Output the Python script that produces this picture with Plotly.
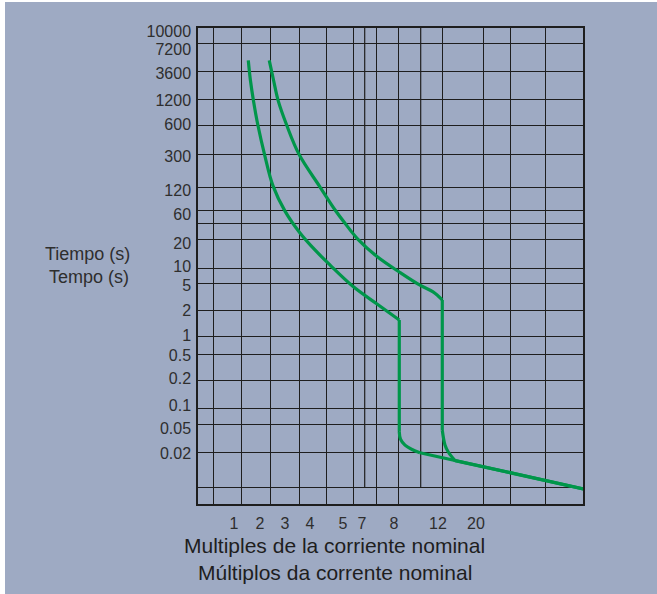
import numpy as np
import plotly.graph_objects as go

# ---- Time axis (seconds): labelled values plus two unlabelled rulings (40 s, 0.01 s)
time_ticks = [0.01, 0.02, 0.05, 0.1, 0.2, 0.5, 1, 2, 5, 10, 20, 40, 60,
              120, 300, 600, 1200, 3600, 7200, 10000]
time_labels = ["0.02", "0.05", "0.1", "0.2", "0.5", "1", "2", "5", "10",
               "20", "60", "120", "300", "600", "1200", "3600", "7200", "10000"]

# ---- Multiples of rated current axis labels
mult_ticks = [1, 2, 3, 4, 5, 7, 8, 12, 20]
mult_labels = ["1", "2", "3", "4", "5", "7", "8", "12", "20"]

# ---- Tripping curves (multiple of In, seconds), split into smooth / straight pieces
curve_low_thermal_m = [1.55, 1.63, 1.75, 1.92, 2.18, 2.52, 3.0, 3.6, 4.15, 4.61,
                       6.0, 7.47, 8.48]
curve_low_thermal_t = [4700, 2540, 1150, 600, 300, 126, 58, 26.3, 15.5, 10.8,
                       4.57, 2.5, 1.56]
curve_low_drop_m = [8.48, 8.48]
curve_low_drop_t = [1.56, 0.039]
curve_low_knee_m = [8.48, 8.59, 9.0, 9.64, 10.36]
curve_low_knee_t = [0.039, 0.0306, 0.0251, 0.0217, 0.0197]
curve_low_tail_m = [10.36, 15.58, 42.6]
curve_low_tail_t = [0.0197, 0.0169, 0.0097]

curve_high_thermal_m = [2.37, 2.54, 2.73, 3.07, 3.56, 4.30, 4.76, 5.21, 6.58,
                        7.5, 8.55, 10.36, 11.55, 12.9]
curve_high_thermal_t = [4700, 2540, 1150, 600, 300, 123, 60, 40, 20,
                        13, 8.24, 4.7, 3.76, 2.87]
curve_high_drop_m = [12.9, 12.9]
curve_high_drop_t = [2.87, 0.041]
curve_high_knee_m = [12.9, 13.47, 14.17, 15.58]
curve_high_knee_t = [0.041, 0.0253, 0.0200, 0.0169]
curve_high_tail_m = [15.58, 42.6]
curve_high_tail_t = [0.0169, 0.0097]

# ---- Nonuniform scale of the printed grid (axis units)
time_pos = [16.7, 52, 79.7, 95.3, 123.3, 149.3, 167.3, 193.3, 220.7, 235.7,
            264.7, 280.7, 294, 316.3, 349.7, 378.7, 404.7, 433, 460.7, 476]
time_label_pos = [51, 76, 99, 126, 149, 169, 194, 219, 238, 261, 290, 314,
                  347.3, 380, 404, 431, 455, 473]
mult_pos = [36, 62, 87, 112, 145, 164, 196, 240, 278]
x_rulings = [15, 43.7, 72, 101, 128.7, 155.7, 178.3, 200, 244.3, 285.3, 312, 347.7]
x_short_rulings = [166.7, 222.7]
X_MAX, Y_MAX = 385, 476

GREEN = "#00964a"
GRID = "#1e1e1e"
BG = "#9eaac3"
TXT = "#2e2e2e"
FONT = "Liberation Sans"


def mult_to_axis(m):
    m = np.asarray(m, float)
    pos = np.interp(m, mult_ticks, mult_pos)
    slope = (mult_pos[-1] - mult_pos[-2]) / (mult_ticks[-1] - mult_ticks[-2])
    return np.where(m > mult_ticks[-1], mult_pos[-1] + (m - mult_ticks[-1]) * slope, pos)


def time_to_axis(t):
    lt = np.log10(np.asarray(t, float))
    lv = np.log10(time_ticks)
    pos = np.interp(lt, lv, time_pos)
    slope = (time_pos[1] - time_pos[0]) / (lv[1] - lv[0])
    return np.where(lt < lv[0], time_pos[0] + (lt - lv[0]) * slope, pos)


fig = go.Figure()

pieces = [
    (curve_low_thermal_m, curve_low_thermal_t, "spline"),
    (curve_low_drop_m, curve_low_drop_t, "linear"),
    (curve_low_knee_m, curve_low_knee_t, "spline"),
    (curve_low_tail_m, curve_low_tail_t, "linear"),
    (curve_high_thermal_m, curve_high_thermal_t, "spline"),
    (curve_high_drop_m, curve_high_drop_t, "linear"),
    (curve_high_knee_m, curve_high_knee_t, "spline"),
    (curve_high_tail_m, curve_high_tail_t, "linear"),
]
for m, t, shape in pieces:
    fig.add_trace(go.Scatter(
        x=mult_to_axis(m), y=time_to_axis(t), mode="lines",
        line=dict(color=GREEN, width=3.2, shape=shape),
        customdata=np.column_stack([m, t]),
        hovertemplate="%{customdata[0]} × In<br>%{customdata[1]} s<extra></extra>",
        showlegend=False,
    ))

# Pixel helpers for the surrounding panel and titles
L, T = 198, 28
def px_x(px):
    return (px - L) / X_MAX
def px_y(py):
    return (T + Y_MAX - py) / Y_MAX

shapes = [dict(type="rect", xref="paper", yref="paper",
               x0=px_x(5), x1=px_x(657), y0=px_y(594), y1=px_y(2),
               fillcolor=BG, line=dict(width=0), layer="below")]
for xv in x_short_rulings:
    shapes.append(dict(type="line", xref="x", yref="y", x0=xv, x1=xv,
                       y0=time_pos[0], y1=Y_MAX, line=dict(color=GRID, width=1.2),
                       layer="below"))


def title(text, cx, cy, size, color):
    return dict(text=text, x=px_x(cx), y=px_y(cy), xref="paper", yref="paper",
                xanchor="center", yanchor="middle", showarrow=False,
                font=dict(size=size, color=color, family=FONT))


annotations = [
    title("Tiempo (s)", 87, 254, 18, TXT),
    title("Tempo (s)", 89, 277, 18, TXT),
    title("Multiples de la corriente nominal", 334.5, 545, 21, "#1e1e1e"),
    title("Múltiplos da corrente nominal", 334.5, 572, 21, "#1e1e1e"),
]

fig.update_layout(
    width=657, height=594,
    margin=dict(l=L, r=657 - L - X_MAX, t=T, b=594 - T - Y_MAX),
    paper_bgcolor="white", plot_bgcolor="rgba(0,0,0,0)",
    shapes=shapes, annotations=annotations,
    xaxis=dict(
        range=[0, X_MAX], tickmode="array", tickvals=mult_pos, ticktext=mult_labels,
        showgrid=False, zeroline=False, ticks="", ticklabelstandoff=4,
        showline=True, mirror=True, linecolor=GRID, linewidth=1.5,
        tickfont=dict(size=16, color=TXT, family=FONT),
        minor=dict(tickmode="array", tickvals=x_rulings, showgrid=True,
                   gridcolor=GRID, gridwidth=1.2, ticks=""),
    ),
    yaxis=dict(
        range=[0, Y_MAX], tickmode="array", tickvals=time_label_pos,
        ticktext=time_labels, showgrid=False, zeroline=False, ticks="",
        ticklabelstandoff=2,
        showline=True, mirror=True, linecolor=GRID, linewidth=1.5,
        tickfont=dict(size=16, color=TXT, family=FONT),
        minor=dict(tickmode="array", tickvals=time_pos, showgrid=True,
                   gridcolor=GRID, gridwidth=1.2, ticks=""),
    ),
)

fig.write_html("out.html")
